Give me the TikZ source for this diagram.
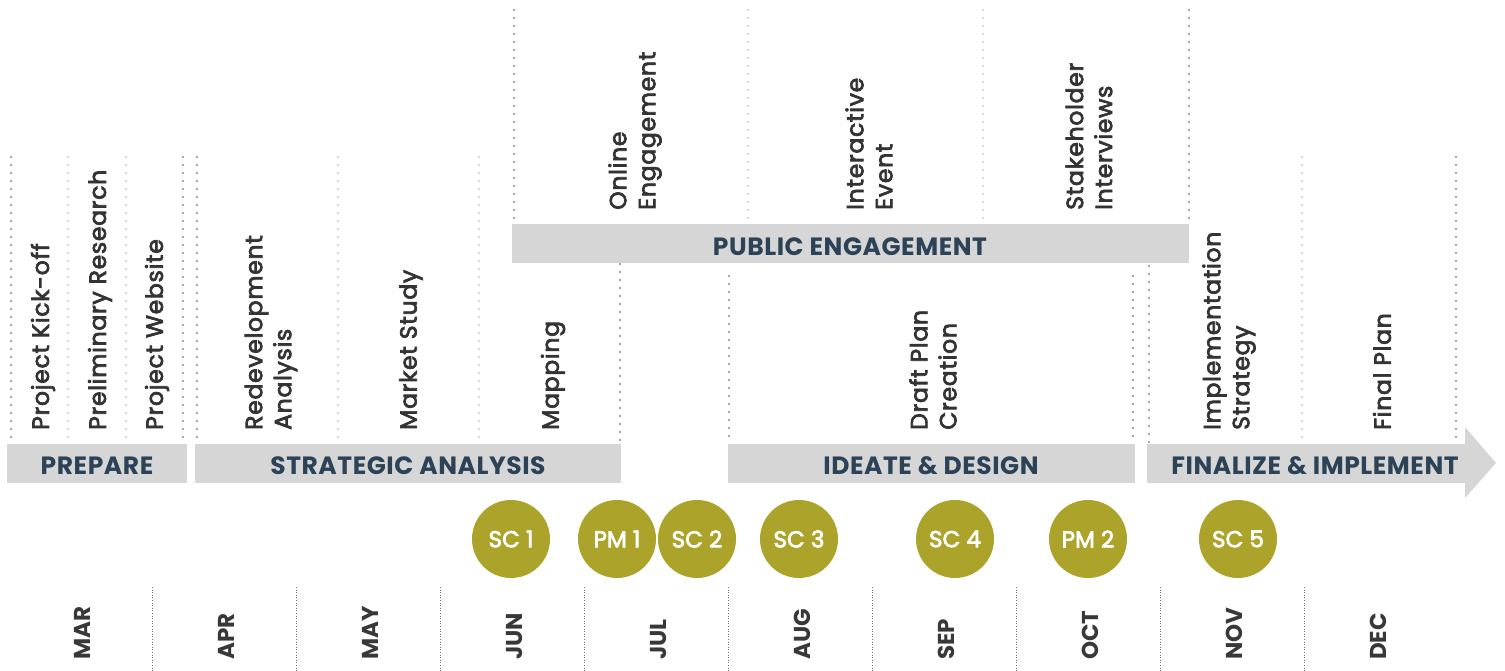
\documentclass[tikz,border=0pt]{standalone}
\usepackage{fontspec}
\setmainfont{Poppins}
\definecolor{bargray}{HTML}{D6D6D6}
\definecolor{cattext}{HTML}{2B4257}
\definecolor{tasktext}{HTML}{333333}
\definecolor{olive}{HTML}{ACA32B}
\definecolor{monthtext}{HTML}{383838}
\definecolor{dotdark}{HTML}{8A8A8A}
\definecolor{dotlight}{HTML}{CDCDCD}
\newfontfamily\taskfont[FakeBold=3,LetterSpace=3]{Poppins}
\newfontfamily\circfont[FakeBold=3]{Poppins}
\begin{document}
\begin{tikzpicture}[x=1pt,y=-1pt,
  phasebar/.style={fill=bargray, draw=none},
  cat/.style={text=cattext, font=\fontsize{25}{28}\selectfont\bfseries\addfontfeatures{LetterSpace=2.2}, inner sep=0pt},
  task/.style={rotate=90, anchor=west, text=tasktext, align=left, inner sep=0pt,
               font=\taskfont\fontsize{23.5}{29}\selectfont},
  month/.style={rotate=90, anchor=west, text=monthtext, inner sep=0pt,
               font=\fontsize{23}{26}\selectfont\bfseries},
  meeting/.style={circle, fill=olive, minimum size=78pt, inner sep=0pt, text=white,
               font=\circfont\fontsize{23}{26}\selectfont},
  darkdots/.style={draw=dotdark, line width=2.3pt, line cap=round, dash pattern=on 0pt off 8pt},
  lightdots/.style={draw=dotlight, line width=2.3pt, line cap=round, dash pattern=on 0pt off 8pt},
  monthsep/.style={draw=dotdark!80!black, line width=0.7pt, dash pattern=on 1pt off 1.6pt}
]
\useasboundingbox (0,0) rectangle (1505,671);

% ---------- dotted separators (lower tier) ----------
\draw[darkdots]  (11,157)   -- (11,443);
\draw[lightdots] (68,157)   -- (68,443);
\draw[lightdots] (126,157)  -- (126,443);
\draw[darkdots]  (183,157)  -- (183,443);
\draw[darkdots]  (197,157)  -- (197,443);
\draw[lightdots] (338,157)  -- (338,443);
\draw[lightdots] (479,157)  -- (479,443);
\draw[darkdots]  (620,264)  -- (620,443);
\draw[darkdots]  (729,276)  -- (729,443);
\draw[darkdots]  (1133,276) -- (1133,443);
\draw[darkdots]  (1149,266) -- (1149,443);
\draw[lightdots] (1302,157) -- (1302,443);
\draw[darkdots]  (1456,157) -- (1456,443);

% ---------- dotted separators (upper tier) ----------
\draw[darkdots]  (514,10)  -- (514,223);
\draw[lightdots] (748,10)  -- (748,223);
\draw[lightdots] (983,10)  -- (983,223);
\draw[darkdots]  (1189,10) -- (1189,223);

% ---------- phase bars ----------
\fill[phasebar] (7,444) rectangle (187,483);
\node[cat] (prepare) at (97,466) {PREPARE};
\fill[phasebar] (195,444) rectangle (621,483);
\node[cat] (strategic) at (408,466) {STRATEGIC ANALYSIS};
\fill[phasebar] (728,444) rectangle (1135,483);
\node[cat] (ideate) at (931,466) {IDEATE \& DESIGN};
\fill[phasebar] (1147,444) -- (1465,444) -- (1465,427) -- (1496,463) -- (1465,498) -- (1465,483) -- (1147,483) -- cycle;
\node[cat] (finalize) at (1315,466) {FINALIZE \& IMPLEMENT};
\fill[phasebar] (512,224) rectangle (1189,263);
\node[cat] (public) at (850,247) {PUBLIC ENGAGEMENT};

% ---------- tasks ----------
\node[task] (kickoff)   at (43,430)   {Project Kick-off};
\node[task] (prelim)    at (100,430)  {Preliminary Research};
\node[task] (website)   at (157,430)  {Project Website};
\node[task] (redev)     at (271,430)  {Redevelopment\\Analysis};
\node[task] (market)    at (411,430)  {Market Study};
\node[task] (mapping)   at (553,430)  {Mapping};
\node[task] (online)    at (635,210)  {Online\\Engagement};
\node[task] (interact)  at (869,210)  {Interactive\\Event};
\node[task] (stake)     at (1089,210) {Stakeholder\\Interviews};
\node[task] (draft)     at (933,430)  {Draft Plan\\Creation};
\node[task] (implement) at (1229,430) {Implementation\\Strategy};
\node[task] (final)     at (1382,430) {Final Plan};

% ---------- meetings ----------
\node[meeting] (sc1) at (511,539)  {SC 1};
\node[meeting] (pm1) at (617,539)  {PM 1};
\node[meeting] (sc2) at (697,539)  {SC 2};
\node[meeting] (sc3) at (799,539)  {SC 3};
\node[meeting] (sc4) at (955,539)  {SC 4};
\node[meeting] (pm2) at (1088,539) {PM 2};
\node[meeting] (sc5) at (1238,539) {SC 5};

% ---------- months ----------
\foreach \x in {152,296,440,584,728,872,1016,1160,1304}
  \draw[monthsep] (\x,587) -- (\x,671);
\node[month] (mar) at (82.5,660)  {MAR};
\node[month] (apr) at (226.5,660) {APR};
\node[month] (may) at (370.5,660) {MAY};
\node[month] (jun) at (514.5,660) {JUN};
\node[month] (jul) at (658.5,660) {JUL};
\node[month] (aug) at (802.5,660) {AUG};
\node[month] (sep) at (946.5,660) {SEP};
\node[month] (oct) at (1090.5,660) {OCT};
\node[month] (nov) at (1234.5,660) {NOV};
\node[month] (dec) at (1378.5,660) {DEC};
\end{tikzpicture}
\end{document}
